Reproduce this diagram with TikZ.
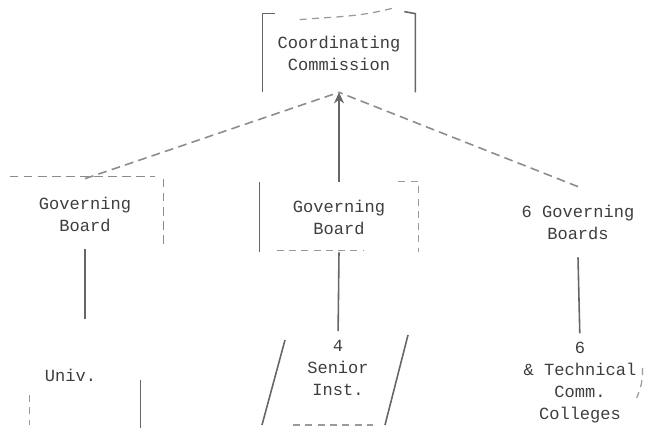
\documentclass[tikz,border=0pt]{standalone}
\usepackage{fontspec}
\setmonofont{Liberation Mono}
\usepackage{xcolor}
\definecolor{inkgray}{HTML}{3E3E3E}
\definecolor{fadegray}{HTML}{9A9A9A}
\usetikzlibrary{arrows.meta,positioning,calc}
\tikzset{
  org/.style={align=center, font=\fontsize{9.7}{12.5}\selectfont\ttfamily,
              text=inkgray, inner sep=0pt},
  brd/.style={org, minimum height=14mm},
  rl/.style={draw=black!60, line width=0.9pt},
  fl/.style={draw=fadegray, line width=0.7pt, dash pattern=on 4pt off 3pt},
  dl/.style={draw=black!45, line width=0.9pt, dash pattern=on 5pt off 3pt},
  ar/.style={rl, -{Stealth[length=2.2mm,width=2mm]}},
}

\begin{document}
\begin{tikzpicture}
  \useasboundingbox (0,0) rectangle (13.24,8.64);
  % top
  \node[org, minimum width=30.4mm, minimum height=15.6mm] (comm) at (6.78,7.58) {Coordinating\\Commission};
  % boards
  \node[brd, minimum width=31.2mm] (lbrd) at (1.70,4.36) {Governing\\Board};
  \node[brd, minimum width=31.6mm] (cbrd) at (6.78,4.30) {Governing\\Board};
  \node[brd, minimum width=31mm] (rbrd) at (11.56,4.20) {6 Governing\\Boards};
  % institutions
  \node[org, minimum width=22mm, minimum height=20mm, text width=16mm, align=left] (univ) at (1.70,1.14) {Univ.};
  \node[org] (senior) at (6.76,1.28) {4\\Senior\\Inst.};
  \node[org] (tech) at (11.60,0.98) {6\\\& Technical\\Comm.\\Colleges};

  % borders
  \draw[rl] ($(comm.north west)+(0.25,0)$) -- (comm.north west) -- (comm.south west);
  \draw[rl] ($(comm.north east)+(-0.22,0.04)$) -- (comm.north east) -- (comm.south east);
  \draw[fl] ($(comm.north west)+(0.74,-0.12)$) to[out=5,in=195] ($(comm.north west)+(2.64,0.12)$);
  \draw[dl] ($(lbrd.north west)+(0.06,0.04)$) -- ($(lbrd.north east)+(-0.16,0.04)$);
  \draw[dl] (lbrd.north east) -- ($(lbrd.south east)+(0,0.1)$);
  \draw[rl] (cbrd.north west) -- (cbrd.south west);
  \draw[fl] ($(cbrd.north east)+(-0.4,0)$) -- (cbrd.north east) -- (cbrd.south east);
  \draw[fl] ($(cbrd.south west)+(0.34,0.04)$) -- ($(cbrd.south)+(0.5,0.04)$);
  \draw[rl] ($(univ.east)+(0,-0.1)$) -- ($(univ.south east)+(0,-0.06)$);
  \draw[fl] ($(univ.west)+(0,-0.4)$) -- (univ.south west);
  \draw[rl] ($(senior.center)+(-1.52,-1.14)$) -- ($(senior.center)+(-1.06,0.56)$);
  \draw[rl] ($(senior.center)+(0.94,-1.14)$) -- ($(senior.center)+(1.40,0.66)$);
  \draw[fl] ($(senior.center)+(-0.9,-1.14)$) -- ($(senior.center)+(0.7,-1.14)$);
  \draw[fl] ($(tech.east)+(0.12,0.3)$) to[bend left=12] ($(tech.east)+(0.0,-0.3)$);

  % connectors
  \draw[ar] (cbrd) -- (comm);
  \draw[dl] (lbrd.north) -- (comm.south);
  \draw[dl] (rbrd.north) -- (comm.south);
  \draw[rl, shorten >=3pt] (lbrd) -- (univ);
  \draw[rl, shorten >=5pt] (cbrd.south) -- (senior.north);
  \draw[rl, shorten >=5pt] (rbrd.south) -- (tech.north);
\end{tikzpicture}
\end{document}
